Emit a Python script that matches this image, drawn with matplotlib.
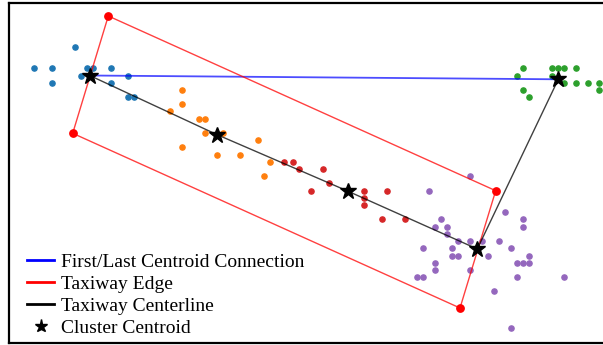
""" Taxiway centerline / edge estimate from clustered aircraft positions """

import matplotlib.pyplot as plt

# cluster points (image-plane coordinates, y grows downward)
blue_x = [34, 51.7, 51.7, 75.3, 87, 93, 81, 110.7, 110.7, 128.3, 128.3, 134.3]
blue_y = [68.3, 68.3, 82.7, 46.7, 68.3, 68.3, 75.7, 68.3, 82.7, 75.7, 97.3, 97.3]

orange_x = [181.7, 181.7, 169.7, 199.3, 205.3, 205.3, 222.7, 181.7, 216.7, 240, 258, 269.7, 264]
orange_y = [89.7, 104, 111.3, 118.7, 118.7, 133, 133, 147.3, 154.7, 154.7, 140.3, 161.7, 176.3]

green_x = [522.7, 552.3, 558.3, 564, 576, 517, 552.3, 564, 576, 587.7, 599.3, 599.3, 522.7, 528.7]
green_y = [68.3, 68.3, 68.3, 68.3, 68.3, 75.7, 75.7, 82.7, 82.7, 82.7, 82.7, 90, 90, 97.3]

red_x = [284, 293.3, 299.3, 322.7, 311, 328.7, 364, 364, 364, 387.3, 381.7, 405]
red_y = [162.3, 161.7, 169, 169, 190.7, 183.3, 190.7, 198, 205.3, 190.7, 219.3, 219.3]

purple_x = [470, 429, 440.7, 434.7, 446.7, 446.7, 458.3, 470, 481.7, 499.3, 505.3, 523, 523,
            423, 452.3, 452.3, 458.3, 487.7, 511.3, 529, 434.7, 434.7, 470, 517, 523, 529,
            417, 423, 517, 564.3, 493.7, 511.3]
purple_y = [176, 190.7, 219.3, 226.7, 226.7, 234, 241, 241, 241, 241, 212.3, 219.3, 226.7,
            248.3, 248.3, 255.7, 255.7, 255.7, 248.3, 255.7, 262.7, 270, 270, 262.7, 262.7, 262.7,
            277, 277, 277, 277, 291.3, 327.7]

# centroids in taxiway order
cent_x = [89.7, 216.7, 347.5, 477.3, 558.3]
cent_y = [75.5, 134.5, 191, 249, 79.3]

# taxiway edge rectangle corners
edge_x = [108.3, 495.7, 460, 72.7]
edge_y = [16, 190.7, 308, 133.3]

fig = plt.figure(figsize=(6.03, 3.45), dpi=100)
ax = fig.add_axes([8.5 / 603, 2.5 / 345, (608 - 8.5) / 603, (342.5 - 2.5) / 345])

s = 14
ax.scatter(blue_x, blue_y, s=s, color="tab:blue", zorder=2)
ax.scatter(orange_x, orange_y, s=s, color="tab:orange", zorder=2)
ax.scatter(green_x, green_y, s=s, color="tab:green", zorder=2)
ax.scatter(red_x, red_y, s=s, color="tab:red", zorder=2)
ax.scatter(purple_x, purple_y, s=s, color="tab:purple", zorder=2)

ax.plot([cent_x[0], cent_x[-1]], [cent_y[0], cent_y[-1]], color="blue", lw=1.3, alpha=0.7,
        label="First/Last Centroid Connection", zorder=3)
ax.plot(edge_x + edge_x[:1], edge_y + edge_y[:1], color="red", lw=1.0, alpha=0.75,
        label="Taxiway Edge", zorder=3)
ax.scatter(edge_x, edge_y, s=28, color="red", zorder=4)
ax.plot(cent_x, cent_y, color="black", lw=1.0, alpha=0.75, label="Taxiway Centerline", zorder=3)
ax.plot(cent_x, cent_y, ls="none", marker="*", ms=12, color="black", label="Cluster Centroid", zorder=5)

ax.set_xlim(8.5, 608)
ax.set_ylim(342.5, 2.5)
ax.set_xticks([])
ax.set_yticks([])
for sp in ax.spines.values():
    sp.set_linewidth(1.6)

leg = ax.legend(loc="lower left", bbox_to_anchor=(0.018, -0.007), frameon=False,
                prop={"family": "Liberation Serif", "size": 14},
                handlelength=1.4, handletextpad=0.36, labelspacing=0.23,
                borderaxespad=0.0, markerscale=0.8)
for h in leg.legend_handles:
    h.set_alpha(1)
    h.set_linewidth(2)

plt.savefig("out.png", dpi=100)
